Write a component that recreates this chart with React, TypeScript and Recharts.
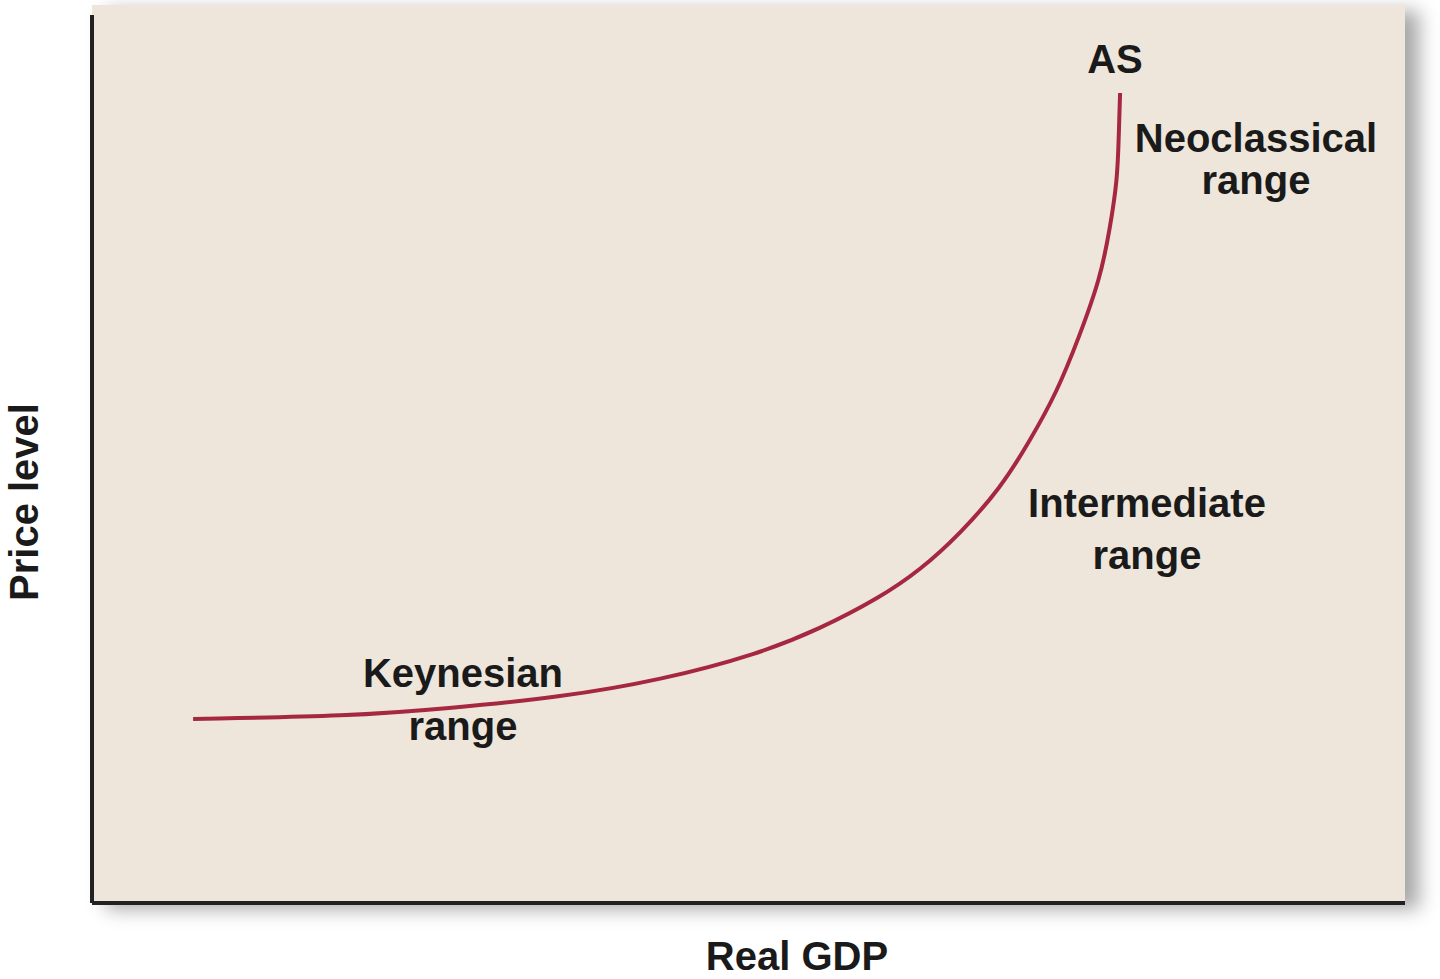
import React from 'react';
import { LineChart, Line, XAxis, YAxis, CartesianGrid, ReferenceLine } from 'recharts';

// aggregate supply curve (0-100 units on both axes)
const realGdp = [7.7, 19.6, 27.3, 35.6, 43.3, 50.9, 55.4, 60.0, 63.1, 66.1, 69.2, 71.4, 73.5, 75.2, 76.8, 77.5, 78.1, 78.2, 78.3];
const priceLevel = [20.5, 20.8, 21.7, 22.9, 24.8, 27.8, 30.5, 34.0, 37.1, 41.1, 46.2, 51.4, 56.9, 63.1, 69.6, 74.9, 80.5, 85.5, 90.2];

const data = realGdp.map((x, i) => ({ gdp: x, price: priceLevel[i] }));

const W = 1440;
const H = 979;
const FONT = "'Liberation Sans', Arial, sans-serif";
const CURVE = '#A52840';
const AXIS = '#222';

const labelStyle = {
  fontFamily: FONT,
  fontWeight: 700,
  fontSize: 40,
  fill: '#1a1a1a',
};

const App = () => {
  return (
    <div style={{ position: 'relative', width: W, height: H, background: '#fff' }}>
      <style>{'body{margin:0}'}</style>
      <div
        style={{
          position: 'absolute',
          left: 92,
          top: 5,
          width: 1313,
          height: 898,
          boxShadow: '14px 6px 18px rgba(0,0,0,0.35)',
        }}
      />
      <div style={{ position: 'absolute', left: 0, top: 0 }}>
        <LineChart
          width={W}
          height={H}
          data={data}
          margin={{ top: 5, right: 35, bottom: 76, left: 92 }}
        >
          <CartesianGrid
            fill="#EEE6DA"
            horizontal={false}
            vertical={false}
            stroke="none"
          />
          <XAxis dataKey="gdp" type="number" domain={[0, 100]} hide />
          <YAxis type="number" domain={[0, 100]} hide />
          <ReferenceLine y={0} stroke={AXIS} strokeWidth={4} />
          <ReferenceLine
            segment={[{ x: 0, y: 0 }, { x: 0, y: 98.9 }]}
            stroke={AXIS}
            strokeWidth={4}
          />
          <Line
            type="basis"
            dataKey="price"
            stroke={CURVE}
            strokeWidth={4}
            dot={false}
            isAnimationActive={false}
          />
          <text x={1115} y={73} textAnchor="middle" style={labelStyle}>AS</text>
          <text x={1256} y={152} textAnchor="middle" style={labelStyle}>Neoclassical</text>
          <text x={1256} y={194} textAnchor="middle" style={labelStyle}>range</text>
          <text x={1147} y={517} textAnchor="middle" style={labelStyle}>Intermediate</text>
          <text x={1147} y={569} textAnchor="middle" style={labelStyle}>range</text>
          <text x={463} y={687} textAnchor="middle" style={labelStyle}>Keynesian</text>
          <text x={463} y={740} textAnchor="middle" style={labelStyle}>range</text>
          <text x={797} y={970} textAnchor="middle" style={labelStyle}>Real GDP</text>
          <text
            x={38}
            y={502}
            textAnchor="middle"
            transform="rotate(-90 38 502)"
            style={labelStyle}
          >
            Price level
          </text>
        </LineChart>
      </div>
    </div>
  );
};

export default App;
